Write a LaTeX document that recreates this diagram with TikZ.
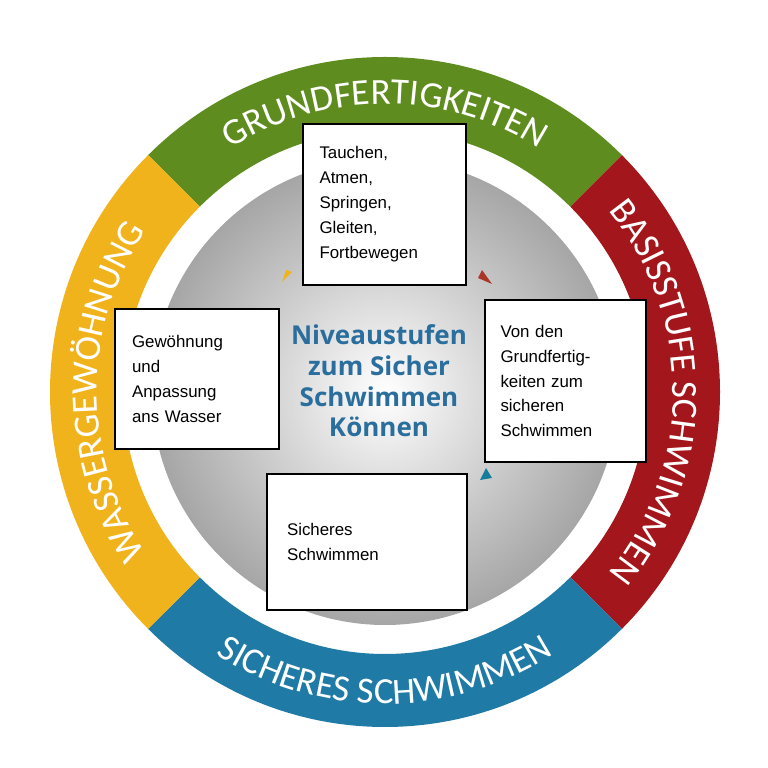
\documentclass[tikz,border=0pt]{standalone}
\usepackage{fontspec}
\setmainfont{Carlito}
\newfontfamily\boxfont{Liberation Sans}
\newfontfamily\titlefont{Open Sans}
\usetikzlibrary{positioning,calc,decorations.text,arrows.meta}
\definecolor{ringgreen}{HTML}{5E8C1F}
\definecolor{ringred}{HTML}{A3161B}
\definecolor{ringblue}{HTML}{1F7AA6}
\definecolor{ringyellow}{HTML}{F0B31C}
\definecolor{titleblue}{HTML}{2A6E9E}
\newcommand{\ringfont}{\fontsize{10.5pt}{12pt}\selectfont\color{white}}
\tikzset{
  infobox/.style={draw, fill=white, align=left, font=\boxfont\fontsize{4.8pt}{7.1pt}\selectfont, inner sep=0pt},
  ringtext/.style={decorate, decoration={text along path, text align=center, text={|\ringfont|#1}}}
}
\begin{document}
\begin{tikzpicture}
  \useasboundingbox (0,0) rectangle (7.68,7.68);
  \coordinate (c) at (3.85,3.76);
  % ring segments
  \fill[ringgreen] ($(c)+(135:3.35)$) arc[start angle=135,end angle=45,radius=3.35]
     -- ($(c)+(45:2.62)$) arc[start angle=45,end angle=135,radius=2.62] -- cycle;
  \fill[ringred] ($(c)+(45:3.35)$) arc[start angle=45,end angle=-45,radius=3.35]
     -- ($(c)+(-45:2.62)$) arc[start angle=-45,end angle=45,radius=2.62] -- cycle;
  \fill[ringblue] ($(c)+(-45:3.35)$) arc[start angle=-45,end angle=-135,radius=3.35]
     -- ($(c)+(-135:2.62)$) arc[start angle=-135,end angle=-45,radius=2.62] -- cycle;
  \fill[ringyellow] ($(c)+(-135:3.35)$) arc[start angle=-135,end angle=-225,radius=3.35]
     -- ($(c)+(135:2.62)$) arc[start angle=135,end angle=225,radius=2.62] -- cycle;
  % inner disk
  \shade[inner color=white, outer color=black!35] (c) circle[radius=2.33];
  % ring labels
  \path[ringtext=GRUNDFERTIGKEITEN] ($(c)+(150:2.88)$) arc[start angle=150,end angle=30,radius=2.88];
  \path[ringtext=BASISSTUFE SCHWIMMEN] ($(c)+(58:2.88)$) arc[start angle=58,end angle=-58,radius=2.88];
  \path[ringtext=SICHERES SCHWIMMEN] ($(c)+(-150:3.12)$) arc[start angle=-150,end angle=-30,radius=3.12];
  \path[ringtext=WASSERGEWÖHNUNG] ($(c)+(-140:2.88)$) arc[start angle=-140,end angle=-220,radius=2.88];
  % centre title
  \node[align=center, text=titleblue, font=\titlefont\bfseries\fontsize{7.4pt}{8.7pt}\selectfont] (title) at (3.79,3.87)
    {Niveaustufen\\zum Sicher\\Schwimmen\\Können};
  % small arrows
  \fill[ringyellow] (2.82,4.86) -- (2.92,4.96) -- (2.86,4.98) -- cycle;
  \fill[ringred!70!brown] (4.82,4.98) -- (4.92,4.84) -- (4.78,4.90) -- cycle;
  \fill[ringblue!70!teal] (4.80,2.88) -- (4.92,2.90) -- (4.86,3.00) -- cycle;
  % boxes
  \node[infobox, minimum width=1.63cm, minimum height=1.61cm, text width=1.3cm] (top) at (3.845,5.635)
    {Tauchen,\\Atmen,\\Springen,\\Gleiten,\\Fortbewegen};
  \node[infobox, minimum width=1.64cm, minimum height=1.40cm, text width=1.3cm] (left) at (1.97,3.89)
    {Gewöhnung\\und\\Anpassung\\ans Wasser};
  \node[infobox, minimum width=1.61cm, minimum height=1.62cm, text width=1.3cm] (right) at (5.655,3.87)
    {Von den\\Grundfertig-\\keiten zum\\sicheren\\Schwimmen};
  \node[infobox, minimum width=2.00cm, minimum height=1.36cm, text width=1.6cm] (bottom) at (3.67,2.26)
    {Sicheres\\Schwimmen};
\end{tikzpicture}
\end{document}
